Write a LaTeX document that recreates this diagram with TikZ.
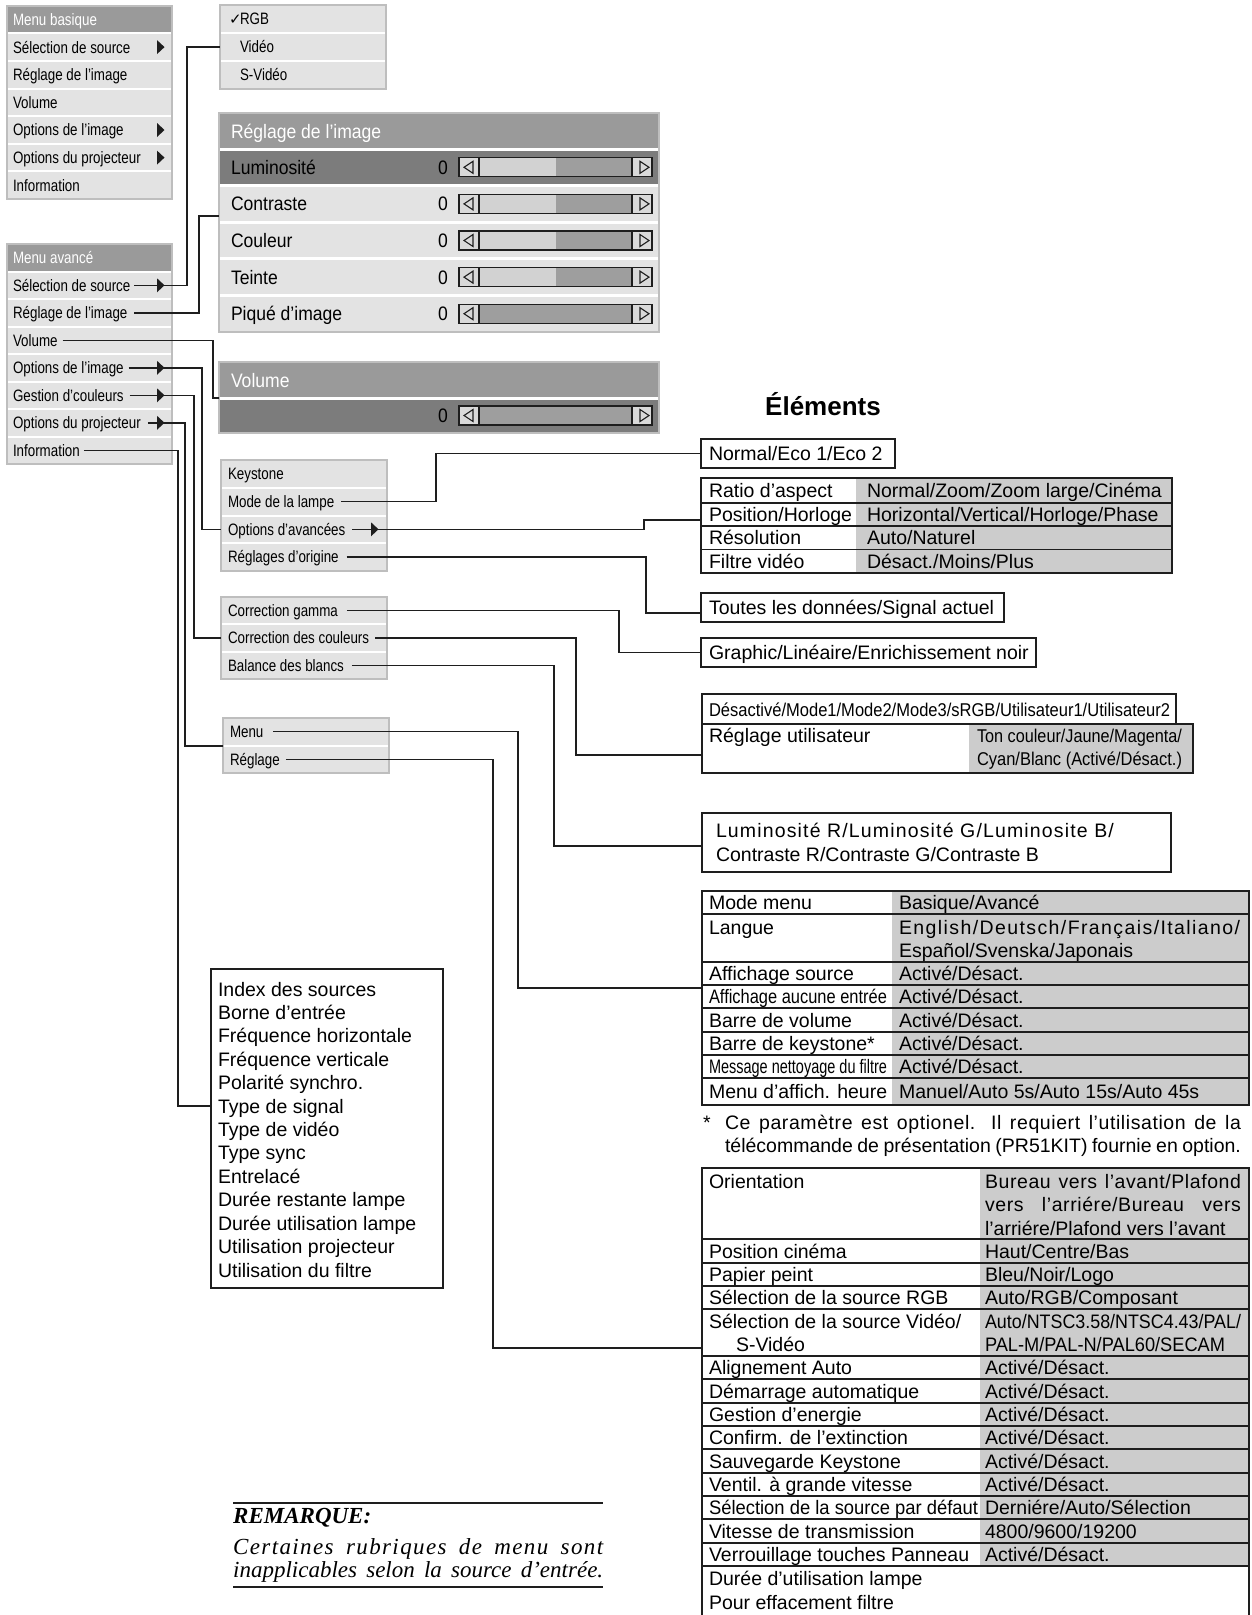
\documentclass[tikz,border=0pt]{standalone}
\usepackage{fontspec}
\usepackage{graphicx}
\setmainfont{Liberation Sans}
\newfontfamily\condfam[FakeStretch=0.81]{Liberation Sans}
\newfontfamily\panfam[FakeStretch=0.9]{Liberation Sans}
\newfontfamily\lsA[LetterSpace=5.9]{Liberation Sans}
\newfontfamily\lsB[LetterSpace=7.2]{Liberation Sans}
\newfontfamily\lsC[LetterSpace=3]{Liberation Sans}
\newfontfamily\djv{DejaVu Sans}
\newfontfamily\serfam{Liberation Serif}
\newfontfamily\serls[LetterSpace=6]{Liberation Serif}
\newcommand\mfont{\condfam\fontsize{16.5pt}{19pt}\selectfont}
\newcommand\pfont{\panfam\fontsize{19.5pt}{23pt}\selectfont}
\newcommand\tfont{\fontsize{19.5pt}{23.4pt}\selectfont}
\newcommand\sqz[2]{\resizebox{#1pt}{\height}{#2}}
\newcommand\jus[2]{\makebox[#1pt][s]{#2}}
\newcommand\rtri[2]{\fill[ink] (#1,#2-7) -- (#1+7.5,#2) -- (#1,#2+7) -- cycle;}
\newcommand\slider[2]{%
  \fill[slL] (459,#1-9.5) rectangle (#2,#1+9.5);
  \fill[slD] (#2,#1-9.5) rectangle (632,#1+9.5);
  \fill[slA] (459,#1-9.5) rectangle (479,#1+9.5);
  \fill[slA] (632,#1-9.5) rectangle (652,#1+9.5);
  \draw[ink,line width=1.3pt] (459,#1-9.5) rectangle (652,#1+9.5) (479,#1-9.5) -- (479,#1+9.5) (632,#1-9.5) -- (632,#1+9.5);
  \draw[ink,line width=1.1pt] (473,#1-6) -- (464,#1) -- (473,#1+6) -- cycle (640,#1-6) -- (649,#1) -- (640,#1+6) -- cycle;}
\definecolor{ink}{HTML}{1E1E1E}
\definecolor{menubg}{HTML}{E3E3E3}
\definecolor{hdrgray}{HTML}{9A9A9A}
\definecolor{selrow}{HTML}{7C7C7C}
\definecolor{mgray}{HTML}{BEBEBE}
\definecolor{slL}{HTML}{D2D2D2}
\definecolor{slD}{HTML}{9E9E9E}
\definecolor{slA}{HTML}{D9D9D9}
\definecolor{cellg}{HTML}{CCCCCC}
\begin{document}
\begin{tikzpicture}[x=1pt,y=-1pt,
  conn/.style={draw=ink, line width=1.4pt},
  sepw/.style={draw=white, line width=2pt},
  mbord/.style={draw=mgray, line width=1.2pt},
  mitem/.style={anchor=west, inner sep=0pt, outer sep=0pt, font=\mfont, text height=11.9pt, text depth=0pt},
  mhead/.style={mitem, text=white},
  pitem/.style={mitem, font=\pfont, text height=14pt},
  phead/.style={pitem, text=white},
  titem/.style={mitem, font=\tfont, text height=14pt},
  rqstyle/.style={anchor=west, inner sep=0pt, text height=15.2pt, text depth=0pt},
  tbox/.style={draw=ink, line width=1.4pt, anchor=north west, inner sep=0pt, outer sep=0pt},
  fbox/.style={anchor=north west, inner sep=0pt, outer sep=0pt},
  tline/.style={draw=ink, line width=1.4pt}]
\fill[white] (0,0) rectangle (1251,1615);
\useasboundingbox (0,0) rectangle (1251,1615);

% ---------- Menu basique
\node[fbox, fill=menubg, minimum width=165pt, minimum height=193pt] (mbbox) at (7,6) {};
\fill[hdrgray] (7,6) rectangle (172,33.3);
\foreach \yy in {33.3,61,88.6,116.2,143.8,171.4} \draw[sepw] (7.6,\yy) -- (171.4,\yy);
\draw[mbord] (mbbox.north west) rectangle (mbbox.south east);
\node[mhead] (mbh) at (13,19.6) {Menu basique};
\node[mitem] (mb1) at (13,47.1) {Sélection de source};
\node[mitem] (mb2) at (13,74.8) {Réglage de l’image};
\node[mitem] (mb3) at (13,102.4) {Volume};
\node[mitem] (mb4) at (13,130) {Options de l’image};
\node[mitem] (mb5) at (13,157.6) {Options du projecteur};
\node[mitem] (mb6) at (13,185.2) {Information};
\rtri{157}{47.1} \rtri{157}{130} \rtri{157}{157.6}

% ---------- Menu avance
\node[fbox, fill=menubg, minimum width=165pt, minimum height=220pt] (mabox) at (7,244) {};
\fill[hdrgray] (7,244) rectangle (172,271.5);
\foreach \yy in {271.5,299,326.5,354,381.5,409,436.5} \draw[sepw] (7.6,\yy) -- (171.4,\yy);
\draw[mbord] (mabox.north west) rectangle (mabox.south east);
\node[mhead] (mah) at (13,257.8) {Menu avancé};
\node[mitem] (ma1) at (13,285.3) {Sélection de source};
\node[mitem] (ma2) at (13,312.8) {Réglage de l’image};
\node[mitem] (ma3) at (13,340.3) {Volume};
\node[mitem] (ma4) at (13,367.8) {Options de l’image};
\node[mitem] (ma5) at (13,395.3) {Gestion d’couleurs};
\node[mitem] (ma6) at (13,422.8) {Options du projecteur};
\node[mitem] (ma7) at (13,450.3) {Information};

% ---------- RGB box
\node[fbox, fill=menubg, minimum width=166pt, minimum height=84pt] (rgbbox) at (220,5) {};
\foreach \yy in {33,61} \draw[sepw] (220.6,\yy) -- (385.4,\yy);
\draw[mbord] (rgbbox.north west) rectangle (rgbbox.south east);
\node[mitem] (rgb1) at (229,19) {\makebox[11pt][l]{\djv\fontsize{15pt}{17pt}\selectfont ✓}RGB};
\node[mitem] (rgb2) at (240,47) {Vidéo};
\node[mitem] (rgb3) at (240,75) {S-Vidéo};

% ---------- Reglage de l'image panel
\node[fbox, fill=menubg, minimum width=440pt, minimum height=219pt] (pan) at (219,113) {};
\fill[hdrgray] (219,113) rectangle (659,149);
\fill[selrow] (219,149) rectangle (659,185.6);
\foreach \yy in {149,185.6,222.2,258.8,295.4} \draw[sepw, line width=3pt] (219.6,\yy) -- (658.4,\yy);
\draw[mbord] (pan.north west) rectangle (pan.south east);
\node[phead] (panh) at (231,131) {Réglage de l’image};
\node[pitem] (p1) at (231,167.3) {Luminosité};
\node[pitem] (p2) at (231,203.9) {Contraste};
\node[pitem] (p3) at (231,240.5) {Couleur};
\node[pitem] (p4) at (231,277.1) {Teinte};
\node[pitem] (p5) at (231,313.7) {Piqué d’image};
\node[pitem, anchor=center] (z1) at (443,167.3) {0};
\node[pitem, anchor=center] (z2) at (443,203.9) {0};
\node[pitem, anchor=center] (z3) at (443,240.5) {0};
\node[pitem, anchor=center] (z4) at (443,277.1) {0};
\node[pitem, anchor=center] (z5) at (443,313.7) {0};
\slider{167.3}{556}
\slider{203.9}{556}
\slider{240.5}{556}
\slider{277.1}{556}
\slider{313.7}{479}

% ---------- Volume panel
\node[fbox, fill=selrow, minimum width=440pt, minimum height=71pt] (vol) at (219,362) {};
\fill[hdrgray] (219,362) rectangle (659,398);
\draw[sepw, line width=3pt] (219.6,398) -- (658.4,398);
\draw[mbord] (vol.north west) rectangle (vol.south east);
\node[phead] (volh) at (231,380) {Volume};
\node[pitem, anchor=center] (z6) at (443,415.5) {0};
\slider{415.5}{479}

% ---------- Keystone box
\node[fbox, fill=menubg, minimum width=166pt, minimum height=111pt] (kbox) at (221,460) {};
\foreach \yy in {487.7,515.5,543.2} \draw[sepw] (221.6,\yy) -- (386.4,\yy);
\draw[mbord] (kbox.north west) rectangle (kbox.south east);
\node[mitem] (k1) at (228,473.9) {Keystone};
\node[mitem] (k2) at (228,501.6) {Mode de la lampe};
\node[mitem] (k3) at (228,529.3) {Options d’avancées};
\node[mitem] (k4) at (228,557) {Réglages d’origine};

% ---------- Correction box
\node[fbox, fill=menubg, minimum width=166pt, minimum height=82pt] (cbox) at (221,597) {};
\foreach \yy in {624.3,651.7} \draw[sepw] (221.6,\yy) -- (386.4,\yy);
\draw[mbord] (cbox.north west) rectangle (cbox.south east);
\node[mitem] (c1) at (228,610.7) {Correction gamma};
\node[mitem] (c2) at (228,638) {Correction des couleurs};
\node[mitem] (c3) at (228,665.3) {Balance des blancs};

% ---------- Menu / Reglage box
\node[fbox, fill=menubg, minimum width=166pt, minimum height=55pt] (mbox2) at (223,718) {};
\draw[sepw] (223.6,745.5) -- (388.4,745.5);
\draw[mbord] (mbox2.north west) rectangle (mbox2.south east);
\node[mitem] (m1) at (230,731.7) {Menu};
\node[mitem] (m2) at (230,759.2) {Réglage};

% ---------- Information box
\node[tbox, minimum width=232pt, minimum height=319pt] (info) at (211,969) {};
\node[titem] (i1) at (218,989) {Index des sources};
\node[titem] (i2) at (218,1012.4) {Borne d’entrée};
\node[titem] (i3) at (218,1035.8) {Fréquence horizontale};
\node[titem] (i4) at (218,1059.3) {Fréquence verticale};
\node[titem] (i5) at (218,1082.7) {Polarité synchro.};
\node[titem] (i6) at (218,1106.1) {Type de signal};
\node[titem] (i7) at (218,1129.5) {Type de vidéo};
\node[titem] (i8) at (218,1152.9) {Type sync};
\node[titem] (i9) at (218,1176.4) {Entrelacé};
\node[titem] (i10) at (218,1199.8) {Durée restante lampe};
\node[titem] (i11) at (218,1223.2) {Durée utilisation lampe};
\node[titem] (i12) at (218,1246.6) {Utilisation projecteur};
\node[titem] (i13) at (218,1270) {Utilisation du filtre};

% ---------- Elements
\node[anchor=west, inner sep=0pt, font=\bfseries\fontsize{26pt}{30pt}\selectfont, text height=18.7pt, text depth=0pt] (elem) at (765,406) {Éléments};

\node[tbox, minimum width=194pt, minimum height=29pt] (eco) at (701,439) {};
\node[titem] (ecot) at (709,453.5) {Normal/Eco 1/Eco 2};

\fill[cellg] (856,478) rectangle (1172,573);
\node[tbox, minimum width=471pt, minimum height=95pt] (ratio) at (701,478) {};
\foreach \yy in {503,526,549.5} \draw[tline] (701,\yy) -- (1172,\yy);
\node[titem] (ra1) at (709,490.5) {Ratio d’aspect};
\node[titem] (ra2) at (709,514.5) {Position/Horloge};
\node[titem] (ra3) at (709,537.8) {Résolution};
\node[titem] (ra4) at (709,561.3) {Filtre vidéo};
\node[titem] (rv1) at (867,490.5) {Normal/Zoom/Zoom large/Cinéma};
\node[titem] (rv2) at (867,514.5) {Horizontal/Vertical/Horloge/Phase};
\node[titem] (rv3) at (867,537.8) {Auto/Naturel};
\node[titem] (rv4) at (867,561.3) {Désact./Moins/Plus};

\node[tbox, minimum width=303pt, minimum height=29pt] (toutes) at (701,593) {};
\node[titem] (toutest) at (709,607.5) {Toutes les données/Signal actuel};
\node[tbox, minimum width=335pt, minimum height=29pt] (graphic) at (701,638) {};
\node[titem] (graphict) at (709,652.5) {Graphic/Linéaire/Enrichissement noir};

\node[tbox, minimum width=474pt, minimum height=30pt] (desact) at (702,694) {};
\node[titem] (desactt) at (709,709) {\fontsize{18.5pt}{22pt}\selectfont\sqz{461}{Désactivé/Mode1/Mode2/Mode3/sRGB/Utilisateur1/Utilisateur2}};
\fill[cellg] (969,724) rectangle (1193,773);
\node[tbox, minimum width=491pt, minimum height=49pt] (reguser) at (702,724) {};
\node[titem] (rut) at (709,735) {Réglage utilisateur};
\node[titem] (ruv1) at (977,735.5) {\fontsize{18.5pt}{22pt}\selectfont\sqz{205}{Ton couleur/Jaune/Magenta/}};
\node[titem] (ruv2) at (977,758.5) {\fontsize{18.5pt}{22pt}\selectfont\sqz{205}{Cyan/Blanc (Activé/Désact.)}};

\node[tbox, minimum width=469pt, minimum height=59pt] (lumr) at (702,813) {};
\node[titem] (lum1) at (716,830) {\lsA Luminosité R/Luminosité G/Luminosite B/};
\node[titem] (lum2) at (716,854) {Contraste R/Contraste G/Contraste B};

% ---------- Mode menu table
\fill[cellg] (892,891) rectangle (1249,1105);
\node[tbox, minimum width=547pt, minimum height=214pt] (modemenu) at (702,891) {};
\foreach \yy in {914,962,985,1008,1032,1055,1078} \draw[tline] (702,\yy) -- (1249,\yy);
\node[titem] (mm1) at (709,902.5) {Mode menu};
\node[titem] (mm2) at (709,927) {Langue};
\node[titem] (mm3) at (709,973.5) {Affichage source};
\node[titem] (mm4) at (709,996.5) {\sqz{178}{Affichage aucune entrée}};
\node[titem] (mm5) at (709,1020) {Barre de volume};
\node[titem] (mm6) at (709,1043.5) {Barre de keystone*};
\node[titem] (mm7) at (709,1066.5) {\sqz{178}{Message nettoyage du filtre}};
\node[titem] (mm8) at (709,1091) {Menu d’affich. heure};
\node[titem] (mv1) at (899,902.5) {Basique/Avancé};
\node[titem] (mv2a) at (899,927) {\lsB English/Deutsch/Français/Italiano/};
\node[titem] (mv2b) at (899,950) {Español/Svenska/Japonais};
\node[titem] (mv3) at (899,973.5) {Activé/Désact.};
\node[titem] (mv4) at (899,996.5) {Activé/Désact.};
\node[titem] (mv5) at (899,1020) {Activé/Désact.};
\node[titem] (mv6) at (899,1043.5) {Activé/Désact.};
\node[titem] (mv7) at (899,1066.5) {Activé/Désact.};
\node[titem] (mv8) at (899,1091) {Manuel/Auto 5s/Auto 15s/Auto 45s};

% ---------- footnote
\node[titem] (fnstar) at (703,1122) {*};
\node[titem] (fn1) at (725,1122) {\lsC\jus{516}{Ce paramètre est optionel. Il requiert l’utilisation de la}};
\node[titem] (fn2) at (725,1145) {\jus{516}{télécommande de présentation (PR51KIT) fournie en option.}};

% ---------- Orientation table
\fill[cellg] (980,1168) rectangle (1249,1566);
\node[tbox, minimum width=547pt, minimum height=452pt] (orient) at (702,1168) {};
\foreach \yy in {1239,1263,1286,1309,1356,1379,1403,1426,1449,1473,1496,1519,1543,1566} \draw[tline] (702,\yy) -- (1249,\yy);
\node[titem] (o1) at (709,1181) {Orientation};
\node[titem] (o1a) at (985,1181) {\lsC\jus{256}{Bureau vers l’avant/Plafond}};
\node[titem] (o1b) at (985,1204.5) {\lsC\jus{256}{vers l’arriére/Bureau vers}};
\node[titem] (o1c) at (985,1228) {l’arriére/Plafond vers l’avant};
\node[titem] (o2) at (709,1251) {Position cinéma};
\node[titem] (o2v) at (985,1251) {Haut/Centre/Bas};
\node[titem] (o3) at (709,1274.5) {Papier peint};
\node[titem] (o3v) at (985,1274.5) {Bleu/Noir/Logo};
\node[titem] (o4) at (709,1297.5) {Sélection de la source RGB};
\node[titem] (o4v) at (985,1297.5) {Auto/RGB/Composant};
\node[titem] (o5) at (709,1321) {Sélection de la source Vidéo/};
\node[titem] (o5b) at (736,1344) {S-Vidéo};
\node[titem] (o5v) at (985,1321) {\sqz{256}{Auto/NTSC3.58/NTSC4.43/PAL/}};
\node[titem] (o5w) at (985,1344) {\sqz{240}{PAL-M/PAL-N/PAL60/SECAM}};
\node[titem] (o6) at (709,1367.5) {Alignement Auto};
\node[titem] (o6v) at (985,1367.5) {Activé/Désact.};
\node[titem] (o7) at (709,1391) {Démarrage automatique};
\node[titem] (o7v) at (985,1391) {Activé/Désact.};
\node[titem] (o8) at (709,1414.5) {Gestion d’energie};
\node[titem] (o8v) at (985,1414.5) {Activé/Désact.};
\node[titem] (o9) at (709,1437.5) {Confirm. de l’extinction};
\node[titem] (o9v) at (985,1437.5) {Activé/Désact.};
\node[titem] (o10) at (709,1461) {Sauvegarde Keystone};
\node[titem] (o10v) at (985,1461) {Activé/Désact.};
\node[titem] (o11) at (709,1484.5) {Ventil. à grande vitesse};
\node[titem] (o11v) at (985,1484.5) {Activé/Désact.};
\node[titem] (o12) at (709,1507.5) {\sqz{269}{Sélection de la source par défaut}};
\node[titem] (o12v) at (985,1507.5) {Derniére/Auto/Sélection};
\node[titem] (o13) at (709,1531) {Vitesse de transmission};
\node[titem] (o13v) at (985,1531) {4800/9600/19200};
\node[titem] (o14) at (709,1554.5) {Verrouillage touches Panneau};
\node[titem] (o14v) at (985,1554.5) {Activé/Désact.};
\node[titem] (o15) at (709,1578) {Durée d’utilisation lampe};
\node[titem] (o16) at (709,1602) {Pour effacement filtre};

% ---------- Remarque
\draw[ink, line width=1.3pt] (233,1503) -- (603,1503);
\draw[ink, line width=1.3pt] (233,1587) -- (603,1587);
\node[rqstyle, font=\serfam\bfseries\itshape\fontsize{23pt}{27pt}\selectfont] (rq1) at (233,1516) {REMARQUE:};
\node[rqstyle, font=\serls\itshape\fontsize{23pt}{27pt}\selectfont] (rq2) at (233,1546.5) {\jus{370}{Certaines rubriques de menu sont}};
\node[rqstyle, font=\serfam\itshape\fontsize{23pt}{27pt}\selectfont] (rq3) at (233,1570) {\jus{370}{inapplicables selon la source d’entrée.}};

% ---------- connectors
\draw[conn] ([xshift=4pt]ma1.east) -- (ma1 -| 187,0) |- (rgbbox.west |- rgb2);
\draw[conn] ([xshift=7pt]ma2.east) -- (ma2 -| 199,0) |- (pan.west |- 0,216);
\draw[conn] ([xshift=5pt]ma3.east) -- (ma3 -| 213,0) |- (vol.west |- 0,398);
\draw[conn] ([xshift=5pt]ma4.east) -- (ma4 -| 202,0) |- (kbox.west |- k3);
\draw[conn] ([xshift=6pt]ma5.east) -- (ma5 -| 194,0) |- (cbox.west |- c2);
\draw[conn] ([xshift=7pt]ma6.east) -- (ma6 -| 185,0) |- (mbox2.west |- 0,746);
\draw[conn] ([xshift=4pt]ma7.east) -- (ma7 -| 178,0) |- (info.west |- i6);
\draw[conn] ([xshift=7pt]k2.east) -- (k2 -| 436,0) |- (eco.west);
\draw[conn] ([xshift=7pt]k3.east) -- (k3 -| 644,0) |- (ratio.west |- 0,520);
\draw[conn] ([xshift=8pt]k4.east) -- (k4 -| 646,0) |- (toutes.west |- 0,613);
\draw[conn] ([xshift=9pt]c1.east) -- (c1 -| 619,0) |- (graphic.west);
\draw[conn] ([xshift=6pt]c2.east) -- (c2 -| 576,0) |- (reguser.west |- 0,755);
\draw[conn] ([xshift=8pt]c3.east) -- (c3 -| 554,0) |- (lumr.west |- 0,846);
\draw[conn] ([xshift=10pt]m1.east) -- (m1 -| 518,0) |- (modemenu.west |- 0,988);
\draw[conn] ([xshift=6pt]m2.east) -- (m2 -| 493,0) |- (orient.west |- 0,1348);
\rtri{157}{285.3} \rtri{157}{367.8} \rtri{157}{395.3} \rtri{157}{422.8}
\rtri{371}{529.3}
\end{tikzpicture}
\end{document}
